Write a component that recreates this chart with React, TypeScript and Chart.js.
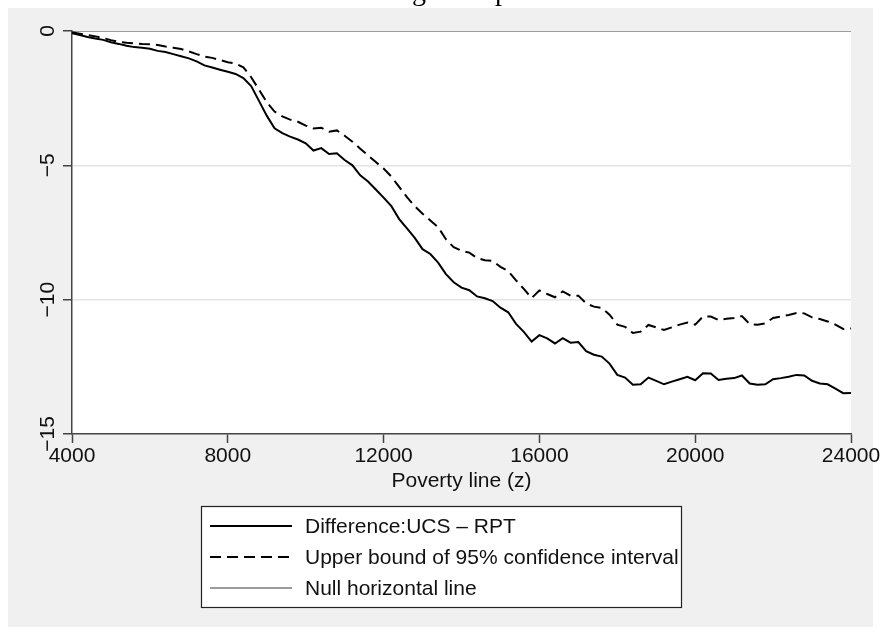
import React, { useEffect, useRef } from 'react';
import { Chart, registerables } from 'chart.js';

Chart.register(...registerables);

// Poverty line values (x)
const povertyLine = [
  4000, 4200, 4400, 4600, 4800, 5000, 5200, 5400, 5600, 5800,
  6000, 6200, 6400, 6600, 6800, 7000, 7200, 7400, 7600, 7800,
  8000, 8200, 8400, 8600, 8800, 9000, 9200, 9400, 9600, 9800,
  10000, 10200, 10400, 10600, 10800, 11000, 11200, 11400, 11600, 11800,
  12000, 12200, 12400, 12600, 12800, 13000, 13200, 13400, 13600, 13800,
  14000, 14200, 14400, 14600, 14800, 15000, 15200, 15400, 15600, 15800,
  16000, 16200, 16400, 16600, 16800, 17000, 17200, 17400, 17600, 17800,
  18000, 18200, 18400, 18600, 18800, 19000, 19200, 19400, 19600, 19800,
  20000, 20200, 20400, 20600, 20800, 21000, 21200, 21400, 21600, 21800,
  22000, 22200, 22400, 22600, 22800, 23000, 23200, 23400, 23600, 23800,
  24000,
];

// Difference: UCS - RPT
const difference = [
  -0.08, -0.15, -0.22, -0.28, -0.33, -0.42, -0.48, -0.55, -0.60, -0.62,
  -0.66, -0.74, -0.78, -0.86, -0.94, -1.02, -1.13, -1.28, -1.36, -1.44,
  -1.52, -1.60, -1.75, -2.05, -2.60, -3.15, -3.62, -3.80, -3.93, -4.04,
  -4.18, -4.45, -4.36, -4.58, -4.55, -4.80, -5.00, -5.37, -5.60, -5.90,
  -6.20, -6.52, -7.00, -7.35, -7.70, -8.12, -8.30, -8.62, -9.05, -9.35,
  -9.55, -9.65, -9.88, -9.95, -10.05, -10.30, -10.47, -10.90, -11.20, -11.56,
  -11.32, -11.44, -11.63, -11.43, -11.60, -11.58, -11.92, -12.05, -12.12, -12.38,
  -12.80, -12.90, -13.17, -13.15, -12.90, -13.02, -13.15, -13.05, -12.96, -12.87,
  -13.00, -12.74, -12.75, -12.99, -12.94, -12.92, -12.82, -13.12, -13.17, -13.15,
  -12.96, -12.92, -12.87, -12.80, -12.82, -13.02, -13.12, -13.15, -13.31, -13.48,
  -13.47,
];

// Upper bound of 95% confidence interval
const upperBound = [
  -0.05, -0.10, -0.15, -0.20, -0.26, -0.34, -0.40, -0.44, -0.46, -0.48,
  -0.49, -0.52, -0.58, -0.62, -0.67, -0.76, -0.86, -0.95, -1.00, -1.08,
  -1.16, -1.21, -1.35, -1.72, -2.18, -2.65, -3.00, -3.18, -3.30, -3.38,
  -3.52, -3.63, -3.60, -3.75, -3.70, -3.90, -4.12, -4.38, -4.63, -4.88,
  -5.12, -5.42, -5.80, -6.18, -6.52, -6.80, -7.05, -7.30, -7.75, -8.05,
  -8.18, -8.25, -8.45, -8.53, -8.56, -8.78, -8.94, -9.28, -9.60, -9.94,
  -9.66, -9.79, -9.91, -9.69, -9.85, -9.85, -10.14, -10.26, -10.31, -10.56,
  -10.93, -11.01, -11.24, -11.19, -10.94, -11.03, -11.13, -11.03, -10.93, -10.85,
  -10.93, -10.63, -10.63, -10.76, -10.71, -10.68, -10.61, -10.91, -10.93, -10.88,
  -10.68, -10.63, -10.57, -10.50, -10.51, -10.66, -10.72, -10.81, -10.93, -11.09,
  -11.07,
];

// Null horizontal line
const nullX = [4000, 24000];
const nullY = [0, 0];

const xTickValues = [4000, 8000, 12000, 16000, 20000, 24000];
const yTickValues = [0, -5, -10, -15];
const yGridValues = [-5, -10];

const seriesLabels = [
  'Difference:UCS \u2013 RPT',
  'Upper bound of 95% confidence interval',
  'Null horizontal line',
];
const xAxisTitle = 'Poverty line (z)';

const FONT_FAMILY = '"Liberation Sans", Arial, Helvetica, sans-serif';
const FONT_SIZE = 21;
const TEXT_COLOR = '#111111';
const AXIS_COLOR = '#444444';

const backgroundPlugin = {
  id: 'stataBackground',
  beforeDraw(chart: any) {
    const { ctx, chartArea } = chart;
    ctx.save();
    ctx.fillStyle = '#f0f0f0';
    ctx.fillRect(8, 8, 865, 619);
    ctx.fillStyle = '#ffffff';
    ctx.fillRect(
      chartArea.left,
      chartArea.top,
      chartArea.right - chartArea.left,
      chartArea.bottom - chartArea.top
    );
    ctx.restore();
  },
};

const boxLegendPlugin = {
  id: 'boxLegend',
  afterDraw(chart: any) {
    const { ctx, chartArea } = chart;
    const datasets = chart.data.datasets;
    ctx.save();
    ctx.font = `${FONT_SIZE}px ${FONT_FAMILY}`;
    const maxW = Math.max(...datasets.map((d: any) => ctx.measureText(d.label).width));
    const padL = 9;
    const lineLen = 82;
    const gap = 13;
    const padR = 2;
    const rowH = 31;
    const w = Math.round(padL + lineLen + gap + maxW + padR);
    const h = datasets.length * rowH + 8;
    const cx = 441;
    const left = Math.round(cx - w / 2);
    const top = Math.round(chartArea.bottom + 72);
    ctx.fillStyle = '#ffffff';
    ctx.fillRect(left, top, w, h);
    ctx.strokeStyle = '#222222';
    ctx.lineWidth = 1.2;
    ctx.strokeRect(left + 0.5, top + 0.5, w, h);
    datasets.forEach((d: any, i: number) => {
      const y = top + 20 + i * rowH;
      ctx.strokeStyle = d.borderColor;
      ctx.lineWidth = d.borderWidth;
      ctx.setLineDash(d.borderDash || []);
      ctx.beginPath();
      ctx.moveTo(left + padL, y);
      ctx.lineTo(left + padL + lineLen, y);
      ctx.stroke();
      ctx.setLineDash([]);
      ctx.fillStyle = TEXT_COLOR;
      ctx.textBaseline = 'middle';
      ctx.textAlign = 'left';
      ctx.fillText(d.label, left + padL + lineLen + gap, y + 1);
    });
    ctx.restore();
  },
};

export default function App() {
  const canvasRef = useRef<HTMLCanvasElement | null>(null);

  useEffect(() => {
    if (!canvasRef.current) return;
    const font = { family: FONT_FAMILY, size: FONT_SIZE };
    const chart = new Chart(canvasRef.current, {
      type: 'line',
      data: {
        datasets: [
          {
            label: seriesLabels[0],
            data: povertyLine.map((x, i) => ({ x, y: difference[i] })),
            borderColor: '#000000',
            borderWidth: 2,
            pointRadius: 0,
            tension: 0,
            fill: false,
          },
          {
            label: seriesLabels[1],
            data: povertyLine.map((x, i) => ({ x, y: upperBound[i] })),
            borderColor: '#000000',
            borderWidth: 2,
            borderDash: [11, 6],
            pointRadius: 0,
            tension: 0,
            fill: false,
          },
          {
            label: seriesLabels[2],
            data: nullX.map((x, i) => ({ x, y: nullY[i] })),
            borderColor: '#9c9c9c',
            borderWidth: 2,
            pointRadius: 0,
            tension: 0,
            fill: false,
          },
        ],
      },
      options: {
        responsive: false,
        animation: false,
        events: [],
        layout: { padding: { top: 31, right: 32, bottom: 120, left: 0 } },
        plugins: {
          legend: { display: false },
          tooltip: { enabled: false },
          title: { display: false },
        },
        scales: {
          x: {
            type: 'linear',
            min: 4000,
            max: 24000,
            afterBuildTicks: (s: any) => {
              s.ticks = xTickValues.map((v) => ({ value: v }));
            },
            afterFit: (s: any) => {
              s.height = 81;
            },
            ticks: {
              autoSkip: false,
              maxRotation: 0,
              minRotation: 0,
              padding: 1,
              color: TEXT_COLOR,
              font,
              callback: (v: any) => String(v),
            },
            grid: {
              drawOnChartArea: false,
              drawTicks: true,
              tickLength: 9,
              tickColor: AXIS_COLOR,
              tickWidth: 1.5,
            },
            border: { display: true, color: AXIS_COLOR, width: 1.5 },
            title: {
              display: true,
              text: xAxisTitle,
              color: TEXT_COLOR,
              font,
              padding: { top: 0, bottom: 21 },
            },
          },
          y: {
            type: 'linear',
            min: -15,
            max: 0,
            afterBuildTicks: (s: any) => {
              s.ticks = yTickValues.map((v) => ({ value: v }));
            },
            afterFit: (s: any) => {
              s.width = 72;
            },
            ticks: {
              autoSkip: false,
              minRotation: 90,
              maxRotation: 90,
              crossAlign: 'center',
              padding: -3,
              color: TEXT_COLOR,
              font,
              callback: (v: any) => String(v).replace('-', '\u2212'),
            },
            grid: {
              color: (c: any) =>
                c.tick && yGridValues.includes(c.tick.value) ? '#e4e4e4' : 'rgba(0,0,0,0)',
              lineWidth: 1.5,
              drawTicks: true,
              tickLength: 9,
              tickColor: AXIS_COLOR,
              tickWidth: 1.5,
            },
            border: { display: true, color: AXIS_COLOR, width: 1.5 },
          },
        },
      } as any,
      plugins: [backgroundPlugin, boxLegendPlugin],
    });
    return () => chart.destroy();
  }, []);

  return (
    <div style={{ position: 'absolute', left: 0, top: 0, width: 883, height: 635 }}>
      <canvas
        ref={canvasRef}
        width={883}
        height={635}
        style={{ display: 'block', width: 883, height: 635 }}
      />
      <div
        style={{
          position: 'absolute',
          left: 0,
          top: 0,
          width: 883,
          height: 8,
          overflow: 'hidden',
          fontFamily: '"Liberation Serif", "Times New Roman", serif',
          fontSize: 28,
          lineHeight: '28px',
          color: '#000',
        }}
      >
        <span style={{ position: 'absolute', left: 412, top: -23 }}>g</span>
        <span style={{ position: 'absolute', left: 495, top: -23 }}>p</span>
      </div>
    </div>
  );
}
